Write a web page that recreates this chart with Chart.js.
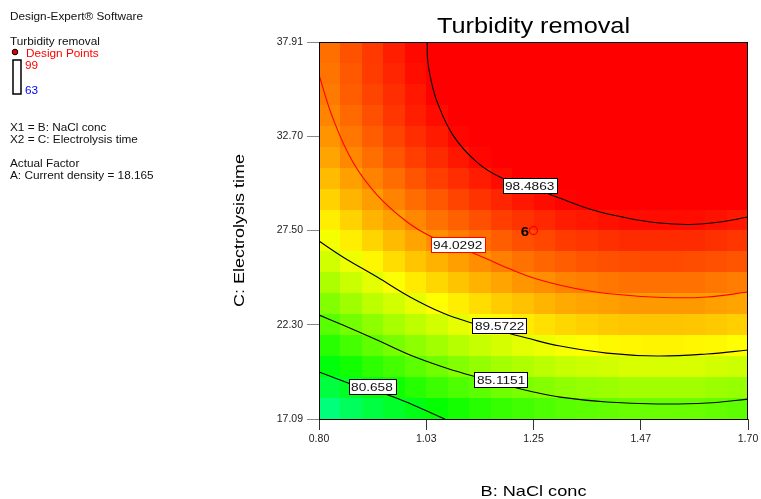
<!DOCTYPE html>
<html>
<head>
<meta charset="utf-8">
<script src="https://cdn.jsdelivr.net/npm/chart.js@4.4.1/dist/chart.umd.min.js"></script>
<style>
  html, body { margin: 0; padding: 0; background: #fff; }
</style>
</head>
<body>
<canvas id="chart" width="761" height="499"></canvas>
<script>
// axis ranges and ticks
const naclRange = [0.80, 1.70];
const timeRange = [17.09, 37.91];
const xTicks = [0.80, 1.025, 1.25, 1.475, 1.70];
const xTickLabels = ["0.80", "1.03", "1.25", "1.47", "1.70"];
const yTicks = [17.09, 22.295, 27.50, 32.705, 37.91];
const yTickLabels = ["17.09", "22.30", "27.50", "32.70", "37.91"];

// predicted turbidity removal (%), rows from 17.09 (bottom) to 37.91 (top), cols 0.80 -> 1.70
const removal = [
  [76.7, 77.7, 78.7, 79.5, 80.3, 81.1, 81.7, 82.3, 82.9, 83.3, 83.7, 84.1, 84.3, 84.5, 84.7, 84.7, 84.7, 84.7, 84.5, 84.3],
  [78.8, 79.8, 80.7, 81.5, 82.3, 83.1, 83.7, 84.3, 84.9, 85.3, 85.7, 86.1, 86.3, 86.5, 86.7, 86.7, 86.7, 86.7, 86.5, 86.3],
  [80.6, 81.6, 82.6, 83.4, 84.2, 85.0, 85.6, 86.2, 86.8, 87.2, 87.6, 88.0, 88.2, 88.4, 88.6, 88.6, 88.6, 88.6, 88.4, 88.2],
  [82.4, 83.4, 84.4, 85.2, 86.0, 86.7, 87.4, 88.0, 88.5, 89.0, 89.4, 89.7, 90.0, 90.2, 90.3, 90.4, 90.4, 90.3, 90.2, 90.0],
  [84.1, 85.1, 86.0, 86.9, 87.7, 88.4, 89.1, 89.7, 90.2, 90.7, 91.1, 91.4, 91.7, 91.9, 92.0, 92.1, 92.1, 92.0, 91.9, 91.7],
  [85.6, 86.6, 87.6, 88.4, 89.2, 90.0, 90.6, 91.2, 91.8, 92.2, 92.6, 93.0, 93.2, 93.4, 93.6, 93.6, 93.6, 93.6, 93.4, 93.2],
  [87.1, 88.1, 89.0, 89.9, 90.7, 91.4, 92.1, 92.7, 93.2, 93.7, 94.0, 94.4, 94.6, 94.8, 95.0, 95.0, 95.0, 95.0, 94.8, 94.6],
  [88.4, 89.4, 90.3, 91.2, 92.0, 92.7, 93.4, 94.0, 94.5, 95.0, 95.4, 95.7, 96.0, 96.2, 96.3, 96.4, 96.4, 96.3, 96.2, 96.0],
  [89.6, 90.6, 91.5, 92.4, 93.2, 93.9, 94.6, 95.2, 95.7, 96.2, 96.5, 96.9, 97.1, 97.3, 97.5, 97.5, 97.5, 97.5, 97.3, 97.1],
  [90.6, 91.6, 92.6, 93.4, 94.2, 95.0, 95.6, 96.2, 96.8, 97.2, 97.6, 98.0, 98.2, 98.4, 98.6, 98.6, 98.6, 98.6, 98.4, 98.2],
  [91.6, 92.6, 93.5, 94.4, 95.2, 95.9, 96.6, 97.2, 97.7, 98.2, 98.6, 98.9, 99.2, 99.4, 99.5, 99.6, 99.6, 99.5, 99.4, 99.2],
  [92.4, 93.4, 94.4, 95.2, 96.0, 96.8, 97.4, 98.0, 98.6, 99.0, 99.4, 99.8, 100.0, 100.2, 100.4, 100.4, 100.4, 100.4, 100.2, 100.0],
  [93.2, 94.2, 95.1, 96.0, 96.8, 97.5, 98.2, 98.8, 99.3, 99.8, 100.2, 100.5, 100.8, 101.0, 101.1, 101.2, 101.2, 101.1, 101.0, 100.8],
  [93.8, 94.8, 95.7, 96.6, 97.4, 98.1, 98.8, 99.4, 99.9, 100.4, 100.8, 101.1, 101.4, 101.6, 101.7, 101.8, 101.8, 101.7, 101.6, 101.4],
  [94.3, 95.3, 96.2, 97.1, 97.9, 98.6, 99.3, 99.9, 100.4, 100.9, 101.3, 101.6, 101.9, 102.1, 102.2, 102.3, 102.3, 102.2, 102.1, 101.9],
  [94.7, 95.7, 96.6, 97.4, 98.2, 99.0, 99.6, 100.2, 100.8, 101.2, 101.6, 102.0, 102.2, 102.4, 102.6, 102.6, 102.6, 102.6, 102.4, 102.2],
  [94.9, 95.9, 96.9, 97.7, 98.5, 99.2, 99.9, 100.5, 101.0, 101.5, 101.9, 102.2, 102.5, 102.7, 102.8, 102.9, 102.9, 102.8, 102.7, 102.5],
  [95.1, 96.1, 97.0, 97.9, 98.7, 99.4, 100.1, 100.7, 101.2, 101.7, 102.1, 102.4, 102.7, 102.9, 103.0, 103.1, 103.1, 103.0, 102.9, 102.7]
];

// contour lines as [NaCl conc, electrolysis time] points
const contour98 = [[1.027, 37.91], [1.028, 36.90], [1.035, 35.80], [1.048, 34.60], [1.081, 32.77], [1.131, 31.28], [1.184, 30.40], [1.243, 29.90], [1.299, 29.35], [1.375, 28.63], [1.446, 28.19], [1.515, 27.91], [1.578, 27.83], [1.641, 27.97], [1.700, 28.25]];
const contour94 = [[0.800, 36.09], [0.829, 33.71], [0.871, 31.28], [0.922, 29.46], [0.985, 27.97], [1.033, 27.20], [1.092, 26.59], [1.148, 25.98], [1.201, 25.37], [1.257, 24.82], [1.333, 24.32], [1.404, 24.02], [1.522, 23.80], [1.614, 23.83], [1.700, 24.10]];
const contour89 = [[0.800, 26.92], [0.850, 26.04], [0.922, 24.93], [0.991, 23.83], [1.060, 22.94], [1.121, 22.39], [1.180, 21.95], [1.236, 21.56], [1.306, 21.12], [1.404, 20.73], [1.509, 20.57], [1.614, 20.68], [1.700, 20.90]];
const contour85 = [[0.800, 22.83], [0.850, 22.28], [0.922, 21.45], [0.991, 20.62], [1.060, 19.96], [1.123, 19.46], [1.182, 19.02], [1.241, 18.64], [1.306, 18.30], [1.404, 18.03], [1.509, 17.92], [1.614, 17.97], [1.700, 18.19]];
const contour80 = [[0.800, 19.69], [0.861, 19.08], [0.911, 18.69], [0.962, 18.25], [1.012, 17.70], [1.064, 17.09]];

// contour labels
const labelText = ["98.4863", "94.0292", "89.5722", "85.1151", "80.658"];
const labelX = [1.242, 1.091, 1.179, 1.182, 0.911];
const labelY = [30.01, 26.73, 22.23, 19.27, 18.86];

// design point (centre point, 6 replicates)
const designPoint = { x: 1.25, y: 27.50 };
const designCount = "6";

const FONT = "'Liberation Sans', Arial, sans-serif";

// 63 blue -> cyan -> green -> yellow -> 99 red
const colorStops = [[63, [0, 0, 255]], [72, [0, 255, 255]], [81, [0, 255, 0]], [90, [255, 255, 0]], [99, [255, 0, 0]]];
function colorFor(v) {
  if (v <= colorStops[0][0]) return "rgb(" + colorStops[0][1].join(",") + ")";
  for (let k = 1; k < colorStops.length; k++) {
    const [v1, c1] = colorStops[k];
    if (v <= v1) {
      const [v0, c0] = colorStops[k - 1];
      const t = (v - v0) / (v1 - v0);
      return "rgb(" + c0.map((c, n) => Math.round(c + (c1[n] - c) * t)).join(",") + ")";
    }
  }
  return "rgb(255,0,0)";
}

function wideText(ctx, str, x, y, size, sx, align, color, weight) {
  ctx.save();
  ctx.font = (weight || "normal") + " " + size + "px " + FONT;
  ctx.fillStyle = color;
  ctx.textAlign = "left";
  ctx.textBaseline = "alphabetic";
  const w = ctx.measureText(str).width * sx;
  const x0 = align === "center" ? x - w / 2 : align === "right" ? x - w : x;
  ctx.translate(x0, y);
  ctx.scale(sx, 1);
  ctx.fillText(str, 0, 0);
  ctx.restore();
  return w;
}

const heatmap = {
  id: "heatmap",
  beforeDatasetsDraw(chart) {
    const { ctx, scales: { x, y } } = chart;
    const rows = removal.length, cols = removal[0].length;
    const dx = (naclRange[1] - naclRange[0]) / cols;
    const dy = (timeRange[1] - timeRange[0]) / rows;
    ctx.save();
    removal.forEach((row, j) => row.forEach((v, i) => {
      const x0 = Math.round(x.getPixelForValue(naclRange[0] + i * dx));
      const x1 = Math.round(x.getPixelForValue(naclRange[0] + (i + 1) * dx));
      const y0 = Math.round(y.getPixelForValue(timeRange[0] + (j + 1) * dy));
      const y1 = Math.round(y.getPixelForValue(timeRange[0] + j * dy));
      ctx.fillStyle = colorFor(v);
      ctx.fillRect(x0, y0, x1 - x0, y1 - y0);
    }));
    ctx.restore();
  }
};

const overlay = {
  id: "overlay",
  afterDatasetsDraw(chart) {
    const { ctx, chartArea: a, scales: { x, y } } = chart;
    ctx.save();
    // plot frame
    ctx.strokeStyle = "#000";
    ctx.lineWidth = 1;
    ctx.strokeRect(a.left + 0.5, a.top + 0.5, a.right - a.left - 1, a.bottom - a.top);

    // contour labels
    labelText.forEach((t, k) => {
      const px = x.getPixelForValue(labelX[k]);
      const py = y.getPixelForValue(labelY[k]);
      ctx.font = "10.5px " + FONT;
      const w = ctx.measureText(t).width * 1.3 + 5;
      ctx.fillStyle = "#fff";
      ctx.fillRect(Math.round(px - w / 2), Math.round(py - 7.5), Math.round(w), 15);
      ctx.strokeStyle = k === 1 ? "#ff0000" : "#000";
      ctx.lineWidth = 1;
      ctx.strokeRect(Math.round(px - w / 2) + 0.5, Math.round(py - 7.5) + 0.5, Math.round(w), 15);
      wideText(ctx, t, px, py + 4.5, 10.5, 1.3, "center", "#111");
    });

    // replicate count next to the design point
    const dpx = x.getPixelForValue(designPoint.x);
    const dpy = y.getPixelForValue(designPoint.y);
    wideText(ctx, designCount, dpx - 4.5, dpy + 5, 13, 1.15, "right", "#000", "bold");
    ctx.restore();
  },
  afterDraw(chart) {
    const { ctx, chartArea: a } = chart;
    const cx = (a.left + a.right) / 2;
    ctx.save();
    wideText(ctx, "Turbidity removal", cx, 33, 22, 1.15, "center", "#000");
    wideText(ctx, "B: NaCl conc", cx, 496, 15, 1.21, "center", "#000");
    ctx.translate(238, (a.top + a.bottom) / 2);
    ctx.rotate(-Math.PI / 2);
    wideText(ctx, "C: Electrolysis time", 0, 5.5, 15, 1.2, "center", "#000");
    ctx.restore();

    // side panel
    ctx.save();
    const p = (t, yy, col) => wideText(ctx, t, 10, yy, 11, 1.07, "left", col || "#111");
    p("Design-Expert\u00ae Software", 20);
    p("Turbidity removal", 45);
    ctx.beginPath();
    ctx.arc(15, 52, 2.8, 0, Math.PI * 2);
    ctx.fillStyle = "#e00000";
    ctx.fill();
    ctx.lineWidth = 1;
    ctx.strokeStyle = "#000";
    ctx.stroke();
    wideText(ctx, "Design Points", 26, 57, 11, 1.07, "left", "#ff0000");
    ctx.lineWidth = 1.5;
    ctx.strokeRect(13, 60, 8, 34);
    wideText(ctx, "99", 25, 69, 11, 1.07, "left", "#ff0000");
    wideText(ctx, "63", 25, 94, 11, 1.07, "left", "#0000ff");
    p("X1 = B: NaCl conc", 131);
    p("X2 = C: Electrolysis time", 143);
    p("Actual Factor", 167);
    p("A: Current density = 18.165", 179);
    ctx.restore();
  }
};

function contourSet(points, color) {
  return {
    data: points.map(([px, py]) => ({ x: px, y: py })),
    showLine: true,
    borderColor: color,
    borderWidth: 1.1,
    pointRadius: 0,
    tension: 0.4,
    fill: false
  };
}

new Chart(document.getElementById("chart"), {
  type: "scatter",
  data: {
    datasets: [
      contourSet(contour98, "#000"),
      contourSet(contour94, "#ff0000"),
      contourSet(contour89, "#000"),
      contourSet(contour85, "#000"),
      contourSet(contour80, "#000"),
      {
        data: [designPoint],
        pointRadius: 4,
        pointStyle: "circle",
        borderColor: "#ff0000",
        backgroundColor: "rgba(0,0,0,0)",
        borderWidth: 1.3
      }
    ]
  },
  options: {
    responsive: false,
    animation: false,
    events: [],
    layout: { padding: { top: 42, left: 225, right: 13, bottom: 0 } },
    plugins: { legend: { display: false }, tooltip: { enabled: false } },
    scales: {
      x: {
        type: "linear",
        min: naclRange[0],
        max: naclRange[1],
        afterBuildTicks: s => { s.ticks = xTicks.map(v => ({ value: v })); },
        afterFit: s => { s.height = 80; s.paddingLeft = 0; s.paddingRight = 0; },
        ticks: {
          callback: (v, i) => xTickLabels[i],
          font: { family: FONT, size: 10.5 },
          color: "#222",
          padding: 3,
          maxRotation: 0,
          autoSkip: false
        },
        grid: { drawOnChartArea: false, tickLength: 11, color: "#333" },
        border: { display: false }
      },
      y: {
        type: "linear",
        min: timeRange[0],
        max: timeRange[1],
        afterBuildTicks: s => { s.ticks = yTicks.map(v => ({ value: v })); },
        afterFit: s => { s.width = 94; s.paddingTop = 0; s.paddingBottom = 0; },
        ticks: {
          callback: (v, i) => yTickLabels[i],
          font: { family: FONT, size: 10.5 },
          color: "#222",
          padding: 4,
          autoSkip: false
        },
        grid: { drawOnChartArea: false, tickLength: 12, color: "#888" },
        border: { display: false }
      }
    }
  },
  plugins: [heatmap, overlay]
});
</script>
</body>
</html>
